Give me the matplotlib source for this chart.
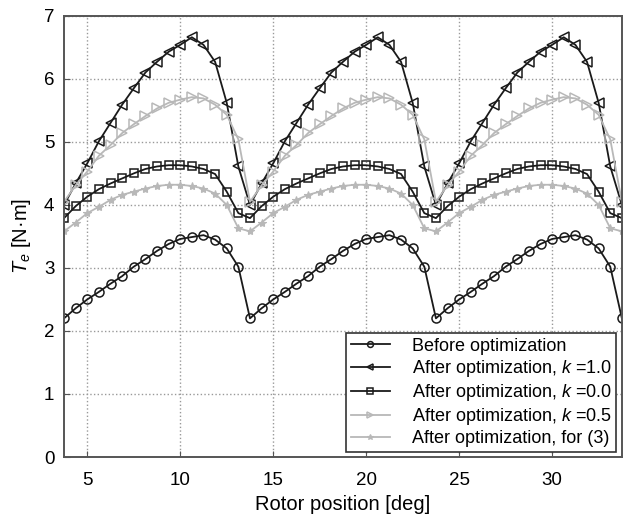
import numpy as np
import matplotlib
matplotlib.use('Agg')
import matplotlib.pyplot as plt

plt.rcParams['font.family'] = ['Liberation Sans', 'DejaVu Sans']
plt.rcParams['mathtext.fontset'] = 'custom'
plt.rcParams['mathtext.rm'] = 'Liberation Sans'
plt.rcParams['mathtext.it'] = 'Liberation Sans:italic'

# rotor position samples [deg]
theta = np.arange(3.75, 33.76, 0.625)

# torque values [N.m]
before = [2.20, 2.36, 2.50, 2.62, 2.75, 2.87, 3.02, 3.14, 3.27, 3.38, 3.46, 3.49, 3.52, 3.45, 3.31, 3.02,
          2.20, 2.36, 2.50, 2.62, 2.75, 2.87, 3.02, 3.14, 3.27, 3.38, 3.46, 3.49, 3.52, 3.45, 3.31, 3.02,
          2.20, 2.36, 2.50, 2.62, 2.75, 2.87, 3.02, 3.14, 3.27, 3.38, 3.46, 3.49, 3.52, 3.45, 3.31, 3.02,
          2.20]
k10 = [4.00, 4.34, 4.66, 5.01, 5.30, 5.59, 5.85, 6.10, 6.27, 6.43, 6.54, 6.66, 6.54, 6.27, 5.62, 4.61,
       4.00, 4.34, 4.66, 5.01, 5.30, 5.59, 5.85, 6.10, 6.27, 6.43, 6.54, 6.66, 6.54, 6.27, 5.62, 4.61,
       4.00, 4.34, 4.66, 5.01, 5.30, 5.59, 5.85, 6.10, 6.27, 6.43, 6.54, 6.66, 6.54, 6.27, 5.62, 4.61,
       4.00]
k00 = [3.79, 3.98, 4.13, 4.25, 4.34, 4.42, 4.50, 4.57, 4.61, 4.63, 4.63, 4.61, 4.57, 4.49, 4.21, 3.87,
       3.79, 3.98, 4.13, 4.25, 4.34, 4.42, 4.50, 4.57, 4.61, 4.63, 4.63, 4.61, 4.57, 4.49, 4.21, 3.87,
       3.79, 3.98, 4.13, 4.25, 4.34, 4.42, 4.50, 4.57, 4.61, 4.63, 4.63, 4.61, 4.57, 4.49, 4.21, 3.87,
       3.79]
k05 = [4.05, 4.31, 4.53, 4.78, 4.95, 5.14, 5.28, 5.41, 5.53, 5.62, 5.67, 5.71, 5.69, 5.59, 5.43, 5.04,
       4.05, 4.31, 4.53, 4.78, 4.95, 5.14, 5.28, 5.41, 5.53, 5.62, 5.67, 5.71, 5.69, 5.59, 5.43, 5.04,
       4.05, 4.31, 4.53, 4.78, 4.95, 5.14, 5.28, 5.41, 5.53, 5.62, 5.67, 5.71, 5.69, 5.59, 5.43, 5.04,
       4.05]
eq3 = [3.58, 3.72, 3.87, 3.97, 4.08, 4.16, 4.21, 4.26, 4.30, 4.32, 4.32, 4.30, 4.26, 4.18, 4.00, 3.63,
       3.58, 3.72, 3.87, 3.97, 4.08, 4.16, 4.21, 4.26, 4.30, 4.32, 4.32, 4.30, 4.26, 4.18, 4.00, 3.63,
       3.58, 3.72, 3.87, 3.97, 4.08, 4.16, 4.21, 4.26, 4.30, 4.32, 4.32, 4.30, 4.26, 4.18, 4.00, 3.63,
       3.58]

labels = ['Before optimization',
          'After optimization, $k$ =1.0',
          'After optimization, $k$ =0.0',
          'After optimization, $k$ =0.5',
          'After optimization, for (3)']

fig = plt.figure(figsize=(6.24, 5.16), dpi=100)
ax = fig.add_axes([0.1026, 0.1143, 0.894, 0.855])

dark = '#1a1a1a'
light = '#b8b8b8'
ax.plot(theta, before, '-o', color=dark, mfc='none', ms=6.5, mew=1.1, lw=1.3, label=labels[0])
ax.plot(theta, k10, '-<', color=dark, mfc='none', ms=7, mew=1.1, lw=1.3, label=labels[1])
ax.plot(theta, k00, '-s', color=dark, mfc='none', ms=6, mew=1.1, lw=1.3, label=labels[2])
ax.plot(theta, k05, '->', color=light, mfc='none', ms=7, mew=1.1, lw=1.3, label=labels[3])
ax.plot(theta, eq3, '-*', color=light, ms=6, mew=0.8, lw=1.3, label=labels[4])

ax.set_xlim(3.75, 33.75)
ax.set_ylim(0, 7)
ax.set_xticks([5, 10, 15, 20, 25, 30])
ax.set_yticks(range(8))
ax.grid(True, linestyle=':', color='#999999', linewidth=1)
ax.tick_params(direction='in', labelsize=13.5, length=4, color='#555555')
ax.tick_params(axis='x', pad=11)
ax.tick_params(axis='y', pad=7)
for s in ax.spines.values():
    s.set_color('#555555')
    s.set_linewidth(1.4)

ax.set_xlabel('Rotor position [deg]', fontsize=14.5, labelpad=4)
ax.set_ylabel('$T_e$ [N·m]', fontsize=14.5, labelpad=8)

leg = ax.legend(loc='lower right', fontsize=13, fancybox=False, framealpha=1,
                edgecolor='#333333', labelspacing=0.17, handlelength=2.2,
                markerscale=0.65, borderaxespad=0.3, borderpad=0.25, handletextpad=1.2)
leg.get_frame().set_linewidth(1.2)

fig.savefig('out.png', dpi=100)
